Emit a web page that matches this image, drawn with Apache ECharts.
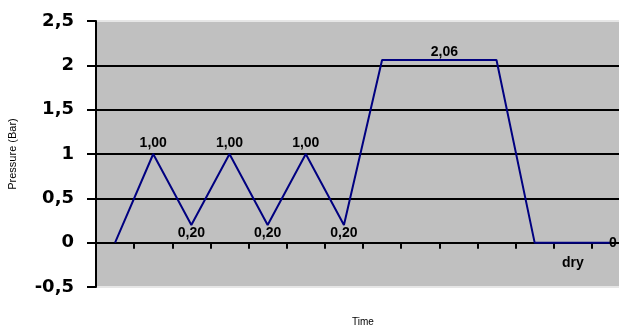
<!DOCTYPE html>
<html>

<head>
    <meta charset="utf-8">
    <script src="https://cdn.jsdelivr.net/npm/echarts@6/dist/echarts.min.js"></script>
</head>

<body style="margin:0;">
    <div id="main" style="width: 619px;height:327px;"></div>
    <script type="text/javascript">
        // categories along the time axis (only the "dry" phase is named)
        var categories = ['', '', '', '', '', '', '', '', '', '', '', '', 'dry', ''];
        // pressure in bar at each step
        var pressure = [0, 1, 0.2, 1, 0.2, 1, 0.2, 2.06, 2.06, 2.06, 2.06, 0, 0, 0];
        // value labels written next to points ('' = none)
        var pointLabels = ['', '1,00', '0,20', '1,00', '0,20', '1,00', '0,20', '', '', '2,06', '', '', '', '0'];
        var labelPlace = ['', 'top', 'bottom', 'top', 'bottom', 'top', 'bottom', '', '', 'top', '', '', '', 'right'];

        var myChart = echarts.init(document.getElementById('main'));

        var seriesData = pressure.map(function (v, i) {
            var item = { value: v };
            if (pointLabels[i]) {
                var dist = 4;
                if (labelPlace[i] == 'right') dist = -2;
                if (labelPlace[i] == 'bottom') dist = 1;
                if (i == 9) dist = 1;
                item.label = {
                    show: true,
                    position: labelPlace[i],
                    distance: dist,
                    offset: i == 9 ? [-14, 0] : [0, 0],
                    formatter: pointLabels[i]
                };
            }
            return item;
        });

        var option = {
            animation: false,
            textStyle: { fontFamily: 'Liberation Sans, Arial, sans-serif' },
            grid: {
                left: 96,
                top: 21,
                bottom: 40,
                right: -11,
                outerBoundsMode: 'none',
                containLabel: false,
                show: true,
                backgroundColor: '#c0c0c0',
                borderColor: '#e6e6e6',
                borderWidth: 2
            },
            xAxis: {
                type: 'category',
                data: categories,
                boundaryGap: true,
                name: 'Time',
                nameLocation: 'middle',
                nameGap: 30,
                nameTextStyle: { fontSize: 10, color: '#000' },
                axisLine: { onZero: true, lineStyle: { color: '#000', width: 2 } },
                axisTick: { show: true, interval: 0, length: 6, lineStyle: { color: '#000', width: 2 } },
                axisLabel: { interval: 0, margin: -31, fontSize: 14, fontWeight: 'bold', color: '#000' }
            },
            yAxis: {
                type: 'value',
                min: -0.5,
                max: 2.5,
                interval: 0.5,
                name: 'Pressure (Bar)',
                nameLocation: 'middle',
                nameGap: 78,
                nameRotate: 90,
                nameTextStyle: { fontSize: 11, color: '#000' },
                axisLine: { show: true, lineStyle: { color: '#000', width: 2 } },
                axisTick: { show: true, length: 9, lineStyle: { color: '#000', width: 2 } },
                axisLabel: {
                    margin: 22,
                    fontSize: 18,
                    fontWeight: 'bold',
                    color: '#000',
                    fontFamily: 'DejaVu Sans',
                    formatter: function (v) { return String(v).replace('.', ','); }
                },
                splitLine: {
                    show: true,
                    showMinLine: false,
                    showMaxLine: false,
                    lineStyle: { color: '#000', width: 2 }
                }
            },
            series: [{
                type: 'line',
                data: seriesData,
                symbol: 'circle',
                symbolSize: 0,
                lineStyle: { color: '#000080', width: 2 },
                itemStyle: { color: '#000080' },
                label: { fontSize: 14, fontWeight: 'bold', color: '#000' }
            }]
        };

        myChart.setOption(option);
    </script>
</body>

</html>
